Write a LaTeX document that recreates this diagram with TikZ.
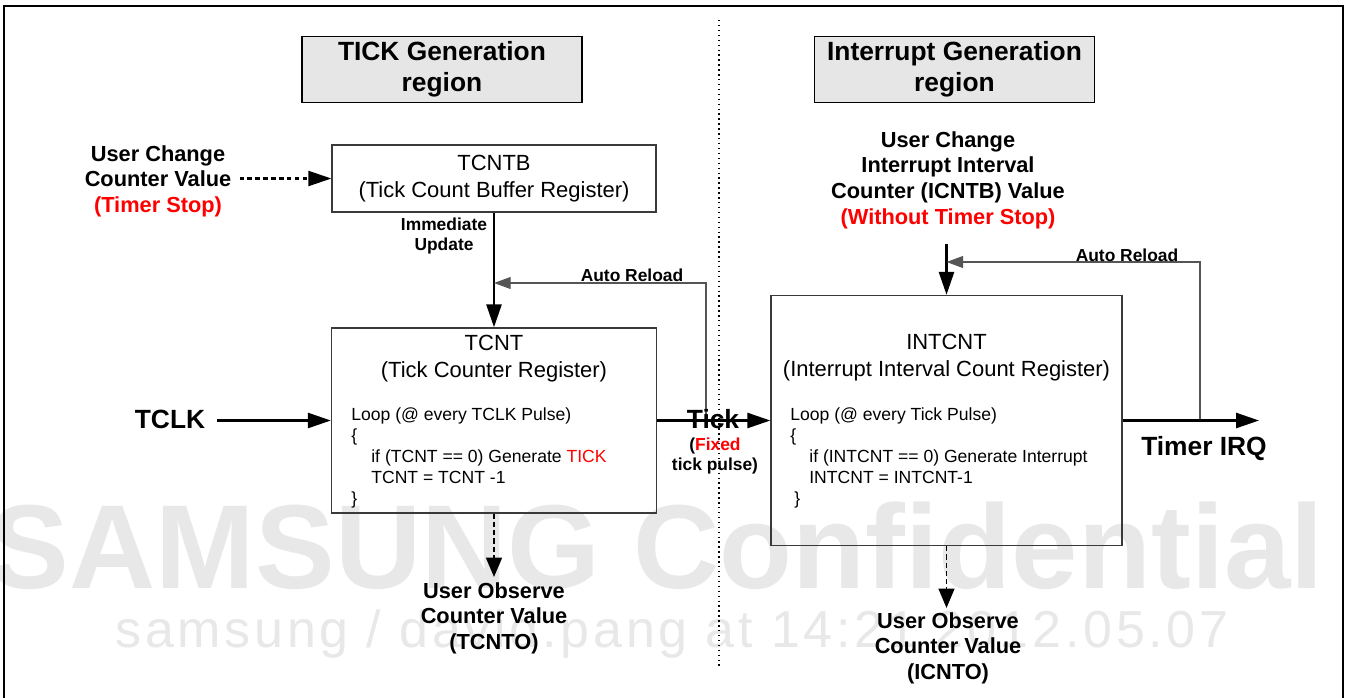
\documentclass[tikz,border=0pt]{standalone}
\usepackage{fontspec}
\setmainfont{Liberation Sans}
\newfontfamily\wmfont[LetterSpace=7.2]{Liberation Sans}
\usetikzlibrary{arrows.meta,calc}
\definecolor{panel}{HTML}{E6E6E6}
\definecolor{ink}{HTML}{000000}
\definecolor{edge}{HTML}{3A3A3A}
\definecolor{wire}{HTML}{555555}
\definecolor{alert}{HTML}{FF0000}
\definecolor{wmark}{HTML}{E8E8E8}

\begin{document}
\begin{tikzpicture}[x=0.02cm,y=-0.02cm,every node/.style={inner sep=0pt,align=center,text=ink},
regionbox/.style={draw=black,line width=1pt,fill=panel,minimum width=5.6cm,minimum height=1.32cm,font=\bfseries\fontsize{15}{17.6}\selectfont},
regbox/.style={draw=edge,line width=.8pt},
headtxt/.style={font=\fontsize{12.5}{15.4}\selectfont},
codetxt/.style={anchor=west,align=left,font=\fontsize{10}{12}\selectfont},
lbl/.style={font=\bfseries\fontsize{12.4}{14.6}\selectfont},
smalllbl/.style={font=\bfseries\fontsize{9.9}{11.4}\selectfont},
biglbl/.style={font=\bfseries\fontsize{15}{18}\selectfont},
flow/.style={line width=1.4pt,-{Triangle[length=13pt,width=8.5pt]}},
reload/.style={draw=wire,line width=.7pt,-{Triangle[length=9.5pt,width=6.8pt]}},
userin/.style={line width=1.2pt,dash pattern=on 2.5pt off 2pt,-{Triangle[length=13pt,width=8.5pt]}},
observe/.style={line width=1.2pt,dash pattern=on 3pt off 1.7pt,-{Triangle[length=11pt,width=9pt]}}]
\useasboundingbox (0,0) rectangle (1353,697);
\fill[white] (0,0) rectangle (1353,697);
% watermark
\node[text=wmark,font=\bfseries\fontsize{68}{68}\selectfont,anchor=base] (wmbig) at (657,588) {SAMSUNG Confidential};
\node[text=wmark,font=\wmfont\fontsize{29.6}{30}\selectfont,anchor=base] (wmsmall) at (672,647) {samsung / david.pang at 14:21 2012.05.07};
% frame and divider
\draw[line width=1.1pt] (4,703)--(4,6)--(1343,6)--(1343,703);
\draw[dotted,line width=.8pt] (719,20)--(719,667);
\node[regionbox] (tickttl) at (442,69.5) {TICK Generation\\region};
\node[regionbox] (intttl) at (954.5,69.5) {Interrupt Generation\\region};
% tick side
\node[regbox,headtxt,minimum width=6.48cm,minimum height=1.34cm] (tcntb) at (494,178.5) {TCNTB\\(Tick Count Buffer Register)};
\node[regbox,minimum width=6.5cm,minimum height=3.7cm] (tcnt) at (494,420.5) {};
\node[headtxt] (tcnthead) at (494,359) {TCNT\\(Tick Counter Register)};
\node[codetxt] (tcntcode) at (351,458) {Loop (@ every TCLK Pulse)\\\{\\\hspace*{.4cm}if (TCNT == 0) Generate \textcolor{alert}{TICK}\\\hspace*{.4cm}TCNT = TCNT -1\\\}};
\node[lbl,anchor=north] (uchg1) at (158,145) {User Change\\Counter Value\\\textcolor{alert}{(Timer Stop)}};
\draw[userin] ([xshift=.16cm]uchg1.east |- tcntb.west) -- (tcntb.west);
\draw[flow] (tcntb.south) -- (tcnt.north);
\node[smalllbl] (immupd) at (444,236) {Immediate\\Update};
\node[biglbl] (tclk) at (170,419) {TCLK};
\draw[flow] ([xshift=.24cm]tclk.east |- tcnt.west) -- (tcnt.west);
\coordinate (tap1) at (706,420.5);\coordinate (join1) at (494,283);
\draw[reload] (tap1) |- (join1);
\node[smalllbl,anchor=base] (reload1) at (632,281) {Auto Reload};
\node[lbl,anchor=north] (obs1lbl) at (494,582) {User Observe\\Counter Value\\(TCNTO)};
\draw[observe] (tcnt.south) -- ($(tcnt.south |- obs1lbl.north)+(0,-5)$);
% interrupt side
\node[regbox,minimum width=7.02cm,minimum height=5cm] (intcnt) at (946.5,420.5) {};
\node[headtxt] (intcnthead) at (946.5,358) {INTCNT\\(Interrupt Interval Count Register)};
\node[codetxt] (intcntcode) at (790,458) {Loop (@ every Tick Pulse)\\\{\\\hspace*{.38cm}if (INTCNT == 0) Generate Interrupt\\\hspace*{.38cm}INTCNT = INTCNT-1\\\hspace*{.08cm}\}};
\draw[flow] (tcnt.east) -- (intcnt.west);
\node[biglbl,anchor=base] (ticklbl) at (713,428) {Tick};
\node[smalllbl,anchor=north] (fixedlbl) at (715,438) {(\textcolor{alert}{Fixed}\\tick pulse)};
\node[lbl,anchor=north] (uchg2) at (948,131) {User Change\\Interrupt Interval\\Counter (ICNTB) Value\\\textcolor{alert}{(Without Timer Stop)}};
\draw[flow] ($(uchg2.south -| intcnt.north)+(0,15)$) -- (intcnt.north);
\coordinate (tap2) at (1200,420.5);\coordinate (join2) at (946.5,262);
\draw[reload] (tap2) |- (join2);
\node[smalllbl,anchor=base] (reload2) at (1127,261) {Auto Reload};
\coordinate (irq) at (1259,420.5);
\draw[flow] (intcnt.east) -- (irq);
\node[biglbl,anchor=base] (irqlbl) at (1204,455) {Timer IRQ};
\node[lbl,anchor=north] (obs2lbl) at (948,612) {User Observe\\Counter Value\\(ICNTO)};
\draw[observe,line width=1pt] (intcnt.south) -- ($(intcnt.south |- obs2lbl.north)+(0,-4)$);
\end{tikzpicture}
\end{document}
